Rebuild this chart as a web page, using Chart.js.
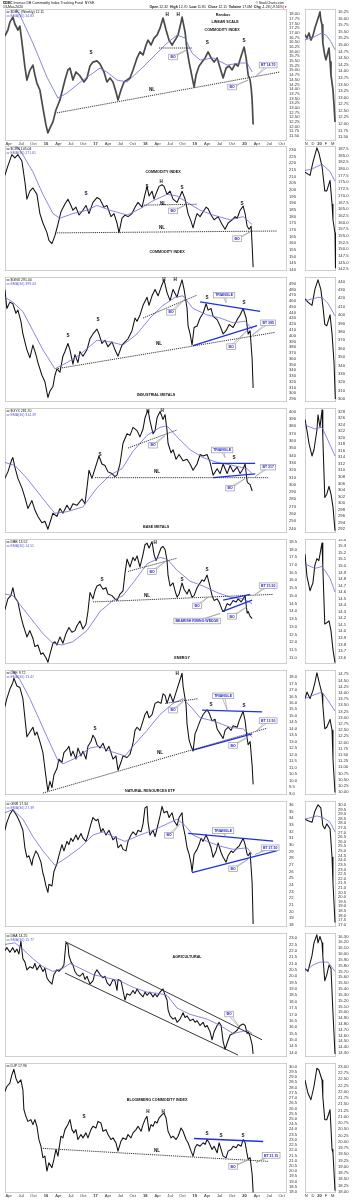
<!DOCTYPE html>
<html>
<head>
<meta charset="utf-8">
<script src="https://cdn.jsdelivr.net/npm/chart.js@4.4.1/dist/chart.umd.min.js"></script>
<style>
  html, body { margin: 0; padding: 0; background: #fff; }
  #page { position: relative; width: 354px; height: 1200px; overflow: hidden; background: #fff; }
  #page canvas { position: absolute; }
</style>
</head>
<body>
<div id="page"></div>
<script>
// x values are months counted from Jan 2015 (Jan 2016 = 12, Jan 2020 = 60)
const quarterMonths = [3, 6, 9, 12, 15, 18, 21, 24, 27, 30, 33, 36, 39, 42, 45, 48, 51, 54, 57, 60, 63, 66, 69];
const quarterLabels = ['Apr', 'Jul', 'Oct', '16', 'Apr', 'Jul', 'Oct', '17', 'Apr', 'Jul', 'Oct', '18',
                       'Apr', 'Jul', 'Oct', '19', 'Apr', 'Jul', 'Oct', '20', 'Apr', 'Jul', 'Oct'];
const dailyMonths = [58, 59, 60, 61, 62];
const dailyLabels = ['N', 'D', '20', 'F', 'M'];

// ---- $DBC ----
const dbcWeekly = [[2.07,16.83],[2.8,17.15],[3.28,17.57],[4.0,17.84],[4.49,17.47],[5.22,17.15],[5.7,17.36],[6.19,16.5],[6.91,15.18],[7.4,14.48],[8.12,15.0],[8.85,15.28],[9.33,14.75],[9.82,14.32],[10.54,13.95],[11.27,13.0],[12.0,12.09],[12.48,11.66],[12.96,11.92],[13.69,12.25],[14.42,12.88],[14.9,13.15],[15.39,13.42],[15.87,13.84],[16.6,14.48],[17.32,15.02],[17.81,15.12],[18.53,14.48],[19.26,14.91],[20.23,14.7],[21.2,14.38],[21.92,14.59],[22.65,15.23],[23.37,15.44],[24.34,15.5],[25.07,15.34],[26.04,14.91],[26.76,14.38],[27.49,14.59],[28.22,14.38],[28.94,13.84],[29.43,13.42],[30.15,13.95],[30.88,14.38],[31.61,14.48],[32.33,14.59],[33.06,15.02],[34.03,15.66],[34.75,15.98],[35.48,15.82],[36.21,16.35],[36.69,16.61],[37.42,16.35],[38.14,16.72],[38.87,16.88],[39.6,17.25],[40.32,17.79],[41.05,17.15],[41.77,16.61],[42.5,16.35],[43.23,16.61],[43.95,16.88],[44.68,17.57],[44.92,17.84],[45.65,17.04],[46.13,16.08],[46.62,15.44],[47.1,14.91],[47.58,14.38],[47.83,14.11],[48.31,14.75],[49.04,15.23],[49.76,15.44],[50.49,15.66],[51.22,15.98],[51.94,15.66],[52.67,15.44],[53.4,15.66],[54.12,15.12],[54.85,14.59],[55.57,15.12],[56.3,15.23],[57.03,15.02],[57.75,15.34],[58.48,15.23],[59.21,15.76],[59.93,16.24],[60.42,15.66],[60.9,14.75],[61.38,14.48],[61.63,14.06],[61.87,13.42],[62.11,12.11]];
const dbcEma = [[2.07,19.0],[4.98,18.21],[5.7,17.95],[8.85,16.45],[12.24,14.64],[14.9,13.52],[17.08,13.79],[20.95,14.48],[25.07,15.12],[26.76,14.91],[29.19,14.48],[31.61,14.38],[34.75,15.02],[37.9,15.71],[41.29,16.45],[43.71,16.88],[45.65,16.72],[47.34,15.92],[49.28,15.55],[52.43,15.66],[55.82,15.28],[58.96,15.39],[60.66,15.39],[61.87,14.91]];
const dbcDaily = [[57.8,15.38],[58.1,15.26],[58.4,15.45],[58.7,15.18],[59.0,15.34],[59.3,15.64],[59.6,15.87],[59.9,16.1],[60.07,16.25],[60.2,15.95],[60.38,15.76],[60.5,15.07],[60.8,14.6],[60.98,14.43],[61.28,14.73],[61.44,14.88],[61.6,14.35],[61.74,13.85],[62.04,13.29],[62.2,12.72],[62.35,12.07]];
const dbcDailyEma = [[57.8,15.19],[58.86,15.26],[59.77,15.38],[60.38,15.45],[61.1,15.34],[61.74,15.11],[62.35,14.81]];
const dbcTicks = [11.5,11.75,12,12.25,12.5,12.75,13,13.25,13.5,13.75,14,14.25,14.5,14.75,15,15.25,15.5,15.75,16,16.25,16.5,16.75,17,17.25,17.5,17.75,18];
const dbcDailyTicks = [11.5,11.75,12,12.25,12.5,12.75,13,13.25,13.5,13.75,14,14.25,14.5,14.75,15,15.25,15.5,15.75,16,16.25];

// ---- $CRB ----
const crbWeekly = [[2.07,210.9],[2.8,218],[3.76,226.4],[4.49,224],[5.22,226.4],[6.19,221.6],[6.91,206.1],[7.4,193],[8.12,199],[8.85,201.4],[9.82,196.6],[10.54,182.2],[11.27,175.1],[12.24,167.9],[12.72,162],[13.45,159.6],[14.18,165.6],[14.9,174],[15.63,183.5],[16.6,189.4],[17.32,193],[18.05,188.3],[18.53,184.7],[19.26,187],[19.99,181.1],[20.95,184.7],[21.68,188.3],[22.41,182.2],[23.37,190.6],[24.34,194.2],[25.07,193],[26.04,187],[26.76,188.3],[27.73,179.9],[28.46,182.2],[29.19,175.1],[29.67,167.9],[30.4,178.7],[31.12,181.1],[31.85,179.9],[32.82,182.2],[33.54,187],[34.27,190.6],[35.24,187],[35.96,196.6],[36.45,202.6],[36.93,195.4],[37.66,199],[38.14,193],[38.87,199],[39.35,202.6],[40.08,203.8],[40.56,202.6],[41.29,196.6],[42.02,199],[42.74,193],[43.71,190.6],[44.44,195.4],[44.92,199],[45.65,193],[46.37,182.2],[47.1,176.3],[47.58,171.5],[48.07,177.5],[48.55,182.2],[49.28,179.9],[50.01,183.5],[50.73,187],[51.22,185.8],[51.94,181.1],[52.67,177.5],[53.64,179.9],[54.61,174],[55.33,170.4],[56.06,175.1],[57.03,177.5],[57.75,179.9],[58.24,178.7],[58.96,184.7],[59.69,187.8],[60.17,182.2],[60.66,172.7],[61.14,170.4],[61.63,172.7],[61.87,158.4],[62.11,142]];
const crbEma = [[2.07,240],[5.7,230],[8.85,213.5],[11.27,196.6],[13.69,182.2],[15.39,178.7],[18.53,182.2],[21.92,184.7],[24.34,188.3],[27.49,184.7],[31.61,181.1],[34.75,185.8],[37.9,191.8],[41.29,196.6],[43.71,195.4],[46.13,190.6],[49.28,184.7],[52.43,181.1],[56.54,177.5],[59.69,179.9],[61.87,174]];
const crbDaily = [[57.8,178.8],[58.56,177.6],[59.0,182.5],[59.6,187.9],[59.9,186],[60.38,181],[60.8,171.8],[61.1,171.8],[61.6,175.7],[61.9,166.8],[62.04,161],[62.35,156],[62.42,143]];
const crbDailyEma = [[57.8,179.4],[58.86,180],[60.38,181.8],[61.6,179],[62.35,175.4]];
const crbTicks = [140,145,150,155,160,165,170,175,180,185,190,195,200,205,210,215,220,225,230];
const crbDailyTicks = [142.5,145,147.5,150,152.5,155,157.5,160,162.5,165,167.5,170,172.5,175,177.5,180,182.5,185,187.5];

// ---- $GNX ----
const gnxWeekly = [[2.07,480.1],[2.55,447],[3.28,458.1],[4.0,455.3],[4.73,438.8],[5.22,444.2],[5.94,425],[6.43,402.9],[7.4,375.4],[8.12,361.6],[8.85,383.7],[9.58,367.2],[10.06,353.3],[11.03,331.3],[11.75,320.2],[12.48,292.8],[12.96,303.7],[13.69,312],[14.18,331.3],[14.66,342.4],[15.39,336.8],[16.11,364.4],[16.6,372.6],[17.32,386.4],[17.81,375.4],[18.53,350.6],[19.02,367.2],[19.74,353.3],[20.23,372.6],[20.95,364.4],[21.92,375.4],[22.65,394.6],[23.37,402.9],[24.34,411.2],[24.83,402.9],[25.55,386.4],[26.28,392],[27.01,380.9],[27.97,389.2],[28.7,375.4],[29.43,364.4],[30.4,383.7],[31.12,389.2],[31.85,394.6],[32.82,408.5],[33.54,430.5],[34.03,425],[34.75,435.9],[35.48,452.5],[36.45,466.4],[36.93,452.5],[37.66,469],[38.39,480.1],[39.11,469],[40.08,488.3],[40.56,496.6],[41.29,474.6],[42.02,460.7],[42.74,480.1],[43.71,466.4],[44.2,480.1],[44.92,496.6],[45.41,480.1],[46.13,447],[46.37,416.8],[46.86,402.9],[47.34,383.7],[47.83,414],[48.55,416.8],[49.28,430.5],[50.01,438.8],[50.73,455.3],[51.22,444.2],[51.94,447],[52.43,433.3],[53.4,427.7],[54.12,416.8],[54.85,402.9],[55.57,408.5],[56.3,419.4],[57.27,414],[58.24,427.7],[58.96,435.9],[59.69,447],[60.42,430.5],[60.9,402.9],[61.38,408.5],[61.87,358.9],[62.11,309.3]];
const gnxEma = [[2.07,466.4],[4.0,458.1],[6.43,441.6],[8.85,408.5],[11.27,375.4],[14.18,342.4],[17.08,353.3],[20.23,367.2],[24.34,392],[27.49,389.2],[30.64,383.7],[34.03,402.9],[37.17,430.5],[40.32,452.5],[43.23,466.4],[45.16,469],[47.58,447],[50.97,435.9],[54.12,430.5],[57.27,422.2],[60.17,425],[61.87,411.2]];
const gnxDaily = [[57.8,419.2],[58.25,415.5],[58.86,411.6],[59.3,430.6],[59.77,441.9],[60.2,430.6],[60.5,411.6],[60.8,388.9],[61.1,387.1],[61.6,400.3],[61.9,377.6],[62.2,343.5],[62.4,300]];
const gnxDailyEma = [[57.8,417],[59.77,421],[60.38,421],[61.28,414],[62.35,399]];
const gnxTicks = [290,300,310,320,330,340,350,360,370,380,390,400,410,420,430,440,450,460,470,480,490];
const gnxDailyTicks = [300,310,320,330,340,350,360,370,380,390,400,410,420,430,440];

// ---- $GYX ----
const gyxWeekly = [[2.07,308.7],[2.8,317.5],[3.76,334.8],[4.0,337],[4.49,324],[5.22,308.7],[6.19,295.7],[6.91,282.6],[7.64,267.5],[8.61,278.3],[9.33,265.3],[10.06,256.6],[11.03,248],[11.75,250],[12.48,239.2],[12.96,248],[13.69,261],[14.66,256.6],[15.39,267.5],[16.11,261],[17.08,271.8],[17.81,265.3],[18.53,274],[19.5,271.8],[20.71,280.5],[21.44,274],[21.92,295.7],[22.41,319.7],[23.13,308.7],[23.62,317.5],[24.34,330.5],[24.83,339.2],[25.55,328.3],[26.28,326.2],[27.01,317.5],[27.97,315.2],[28.7,311],[29.19,313.1],[29.91,328.3],[30.64,356.6],[31.61,369.6],[32.33,367.4],[33.06,378.4],[34.03,373.9],[34.75,365.3],[35.48,376.1],[35.96,391.4],[36.69,402.2],[37.17,387],[37.9,369.6],[38.39,373.9],[38.87,391.4],[39.6,400],[40.32,389.2],[40.81,395.7],[41.29,373.9],[41.53,356.6],[42.26,343.5],[42.74,347.8],[43.47,334.8],[44.2,341.3],[45.16,332.7],[46.13,334.8],[46.86,328.3],[47.58,319.7],[48.55,328.3],[49.28,341.3],[50.01,339.2],[50.97,341.3],[51.7,330.5],[52.43,313.1],[53.4,321.8],[54.12,315.2],[54.85,328.3],[55.82,315.2],[56.54,326.2],[57.27,317.5],[58.24,324],[58.96,315.2],[59.69,321.8],[60.17,328.3],[60.66,304.4],[60.9,302.2],[61.38,300.1],[61.87,291.4]];
const gyxEma = [[2.07,330.5],[4.49,326.2],[7.4,308.7],[9.82,291.4],[12.24,274],[14.18,261],[17.08,263.1],[20.95,269.6],[24.34,295.7],[27.49,313.1],[30.4,321.8],[33.06,345.8],[36.45,367.4],[39.6,378.4],[41.29,380.4],[43.71,365.3],[46.86,347.8],[50.01,337],[53.4,330.5],[57.27,326.2],[60.66,321.8],[61.87,315.2]];
const gyxDaily = [[57.8,325.6],[58.1,322.2],[58.4,318.3],[58.86,314.4],[59.16,316.3],[59.6,322.2],[59.77,327],[60.07,323.2],[60.38,328.5],[60.5,320.2],[60.8,301.7],[61.1,302.7],[61.44,305.1],[61.74,302.7],[62.04,298.8],[62.35,291.5]];
const gyxDailyEma = [[57.8,324.5],[58.1,323.6],[59.3,322.7],[60.38,323.2],[61.28,319.2],[62.35,314.4]];
const gyxTicks = [240,250,260,270,280,290,300,310,320,330,340,350,360,370,380,390,400];
const gyxDailyTicks = [292,294,296,298,300,302,304,306,308,310,312,314,316,318,320,322,324,326,328];

// ---- DBB ----
const dbbWeekly = [[2.07,14.09],[2.8,14.8],[3.52,15.01],[4.0,15.52],[4.49,14.91],[5.22,14.6],[5.94,13.67],[6.43,13.16],[7.4,12.34],[8.12,12.75],[8.85,12.24],[9.33,11.72],[10.06,11.82],[10.79,11.21],[11.27,11.31],[12.0,11.0],[12.48,10.7],[12.96,11.21],[13.69,11.93],[14.18,12.03],[14.66,11.82],[15.39,12.34],[16.11,11.93],[16.84,12.55],[17.56,12.95],[18.29,12.64],[19.02,12.75],[19.5,13.06],[20.23,13.37],[20.95,12.85],[21.68,13.16],[22.16,13.98],[22.65,15.21],[23.37,14.8],[23.86,15.32],[24.34,15.63],[25.07,15.73],[25.8,15.42],[26.52,15.52],[27.01,15.11],[27.97,15.01],[28.7,14.8],[29.19,14.7],[29.91,15.11],[30.64,15.32],[31.12,16.45],[31.61,17.37],[32.33,16.86],[33.06,17.48],[33.54,17.27],[34.03,17.58],[34.75,16.86],[35.48,17.68],[35.96,18.3],[36.45,18.4],[36.93,18.09],[37.66,18.5],[38.14,17.68],[38.63,17.27],[39.11,17.58],[39.84,18.09],[40.32,18.19],[40.81,17.99],[41.29,17.27],[41.53,16.34],[42.02,15.63],[42.74,15.83],[43.23,15.32],[43.71,14.91],[44.2,15.11],[44.92,15.83],[45.41,15.42],[46.13,15.11],[46.62,15.42],[47.34,14.91],[47.83,15.01],[48.55,15.52],[49.04,15.73],[49.76,16.03],[50.25,15.94],[50.97,16.34],[51.46,15.83],[52.18,15.01],[52.67,14.7],[53.4,14.8],[53.88,14.6],[54.61,14.09],[55.09,13.98],[55.82,14.49],[56.54,14.39],[57.27,14.7],[58.0,14.6],[58.48,14.8],[59.21,14.6],[59.69,14.8],[60.17,15.01],[60.66,13.88],[60.9,13.98],[61.38,13.67],[61.87,13.52]];
const dbbEma = [[2.07,15.11],[4.0,15.01],[6.43,14.19],[8.85,13.37],[11.27,12.55],[13.69,11.93],[15.87,11.82],[18.53,12.03],[21.92,12.75],[25.07,13.98],[28.22,14.7],[30.64,15.01],[33.06,15.83],[36.45,17.06],[39.6,17.48],[41.29,17.37],[43.71,16.65],[46.86,15.94],[50.01,15.63],[53.4,15.21],[56.54,14.91],[59.69,14.8],[61.87,14.49]];
const dbbDaily = [[57.8,15.18],[58.1,14.84],[58.56,14.62],[59.0,14.74],[59.3,15.01],[59.6,15.11],[59.9,15.08],[60.38,15.35],[60.5,14.99],[60.8,14.11],[61.1,14.13],[61.44,14.16],[61.74,14.01],[62.04,13.72],[62.35,13.52]];
const dbbDailyEma = [[57.8,15.03],[59.3,14.96],[60.38,14.99],[61.6,14.81],[62.35,14.6]];
const dbbTicks = [11,11.5,12,12.5,13,13.5,14,14.5,15,15.5,16,16.5,17,17.5,18,18.5];
const dbbDailyTicks = [13.6,13.7,13.8,13.9,14,14.1,14.2,14.3,14.4,14.5,14.6,14.7,14.8,14.9,15,15.1,15.2,15.3,15.4];

// ---- DBE ----
const dbeWeekly = [[2.07,15.71],[2.55,16.32],[3.28,17.06],[4.0,17.55],[4.25,17.9],[4.98,17.3],[5.7,17.18],[6.43,16.32],[6.91,14.85],[7.4,13.38],[8.12,13.75],[8.85,14.12],[9.33,13.51],[9.82,13.75],[10.54,13.02],[11.27,12.16],[11.75,10.94],[12.24,9.71],[12.48,9.22],[12.96,9.95],[13.45,9.47],[13.93,10.44],[14.66,10.94],[15.14,11.67],[15.87,11.42],[16.35,12.16],[17.08,12.41],[17.56,12.65],[18.05,11.91],[18.53,12.28],[19.26,11.67],[19.74,12.52],[20.47,11.91],[20.95,12.28],[21.68,11.67],[22.16,12.65],[22.89,13.02],[23.37,13.51],[23.86,13.26],[24.34,12.77],[25.07,12.52],[25.8,12.89],[26.52,12.28],[27.25,12.65],[28.22,11.67],[28.94,11.91],[29.43,10.81],[30.15,11.42],[30.64,11.91],[31.61,11.79],[32.33,12.04],[33.06,12.89],[33.54,13.88],[34.03,14.12],[34.75,13.88],[35.48,14.61],[35.96,15.1],[36.45,15.35],[36.93,14.85],[37.66,15.1],[38.39,15.96],[39.11,16.08],[39.84,15.96],[40.32,16.69],[40.81,16.57],[41.29,15.96],[42.02,16.69],[42.74,16.08],[43.71,17.06],[44.2,17.55],[44.92,18.28],[45.16,17.3],[45.89,15.83],[46.13,14.36],[46.62,13.14],[47.1,12.65],[47.58,12.28],[48.07,13.63],[48.55,13.99],[49.28,14.61],[50.01,15.1],[50.97,15.46],[51.46,15.22],[52.18,14.61],[52.91,14.73],[53.4,13.99],[54.12,13.63],[54.85,13.26],[55.33,13.88],[56.06,14.12],[56.78,13.88],[57.27,14.24],[58.24,14.12],[58.72,14.61],[59.69,15.35],[60.17,14.61],[60.66,13.26],[60.9,12.77],[61.38,13.02],[61.87,11.18],[62.11,9.72]];
const dbeEma = [[2.07,19.2],[5.7,17.79],[8.12,16.32],[10.54,14.61],[12.96,12.89],[14.9,11.55],[16.11,11.3],[19.5,11.79],[22.65,12.52],[25.07,12.65],[27.49,12.28],[31.12,11.91],[33.06,12.65],[36.45,13.88],[39.6,15.1],[42.74,15.96],[45.16,16.32],[47.34,15.59],[49.28,14.85],[52.43,14.61],[56.54,14.12],[59.69,13.99],[61.87,13.38]];
const dbeDaily = [[57.8,13.77],[58.1,14.03],[58.56,13.77],[59.0,14.09],[59.3,14.41],[59.6,14.81],[59.9,14.47],[60.38,13.96],[60.5,13.51],[60.8,12.55],[61.1,12.61],[61.6,12.93],[61.9,12.49],[62.04,11.33],[62.35,9.98]];
const dbeDailyEma = [[57.8,13.77],[59.0,13.9],[60.38,14.03],[61.28,13.7],[62.35,13.26]];
const dbeTicks = [9,9.5,10,10.5,11,11.5,12,12.5,13,13.5,14,14.5,15,15.5,16,16.5,17,17.5,18];
const dbeDailyTicks = [10,10.25,10.5,10.75,11,11.25,11.5,11.75,12,12.25,12.5,12.75,13,13.25,13.5,13.75,14,14.25,14.5,14.75];

// ---- GNR ----
const gnrWeekly = [[2.07,32.18],[2.55,33.37],[3.28,34.57],[4.0,35.28],[4.49,34.8],[4.98,34.33],[5.7,33.37],[6.43,32.18],[6.91,29.55],[7.4,28.12],[7.88,28.36],[8.61,26.93],[8.85,27.88],[9.58,29.08],[10.06,28.59],[10.79,27.4],[11.27,25.73],[11.51,25.26],[12.0,23.82],[12.48,22.86],[12.72,24.07],[13.45,23.82],[13.93,25.97],[14.66,27.16],[15.14,28.36],[15.87,30.03],[16.35,29.08],[17.08,30.51],[17.56,30.03],[18.05,30.99],[18.53,30.51],[19.26,31.46],[19.74,30.75],[20.47,31.7],[20.95,30.99],[21.68,30.51],[22.16,31.46],[22.89,33.13],[23.37,34.09],[24.1,33.61],[24.59,33.85],[25.31,31.94],[25.8,32.42],[26.52,31.46],[27.25,32.18],[28.22,30.75],[28.94,31.23],[29.43,29.55],[30.15,30.03],[30.64,29.31],[31.36,29.08],[31.85,30.51],[32.57,31.46],[33.06,31.94],[33.79,31.46],[34.27,32.18],[35.0,31.94],[35.48,33.13],[35.96,35.53],[36.45,35.76],[36.69,33.37],[37.17,31.46],[37.9,32.18],[38.39,31.23],[38.87,32.42],[39.6,34.33],[40.08,35.76],[40.56,34.8],[41.29,35.04],[41.77,34.09],[42.5,34.8],[42.98,33.61],[43.71,32.89],[44.2,34.09],[44.92,34.8],[45.16,32.89],[45.65,31.46],[46.13,29.55],[46.62,28.59],[47.1,27.16],[47.34,25.97],[47.83,28.59],[48.55,29.31],[49.04,30.03],[49.52,30.99],[50.01,30.51],[50.73,31.46],[51.22,30.75],[51.94,29.55],[52.43,28.12],[53.15,29.08],[53.64,30.27],[54.36,28.84],[54.85,28.12],[55.57,27.4],[56.06,28.36],[56.78,29.08],[57.27,28.84],[58.24,29.55],[58.72,29.8],[59.69,30.99],[60.17,30.03],[60.66,28.59],[60.9,28.36],[61.38,28.84],[61.87,24.3],[62.11,18.1]];
const gnrEma = [[2.07,34.8],[4.0,35.28],[6.43,33.85],[8.85,31.23],[11.27,29.08],[14.18,26.93],[17.08,28.12],[20.23,29.55],[23.37,31.46],[25.8,31.94],[28.22,31.23],[31.12,30.51],[34.75,31.46],[37.9,32.18],[41.29,33.13],[43.71,33.85],[45.65,32.89],[47.58,31.46],[50.97,30.51],[54.12,29.8],[57.27,29.31],[60.66,29.55],[61.87,28.59]];
const gnrDaily = [[57.8,28.45],[58.25,28.27],[58.86,28.1],[59.3,29.31],[59.77,30.0],[60.2,29.66],[60.5,27.76],[60.8,27.41],[61.1,27.93],[61.6,27.41],[61.9,24.31],[62.04,21.55],[62.35,17.25]];
const gnrDailyEma = [[57.8,28.45],[59.6,28.79],[60.5,28.62],[61.6,28.1],[62.35,27.07]];
const gnrTicks = [18,19,20,21,22,23,24,25,26,27,28,29,30,31,32,33,34,35,36];
const gnrDailyTicks = [17,17.5,18,18.5,19,19.5,20,20.5,21,21.5,22,22.5,23,23.5,24,24.5,25,25.5,26,26.5,27,27.5,28,28.5,29,29.5,30];

// ---- DBA ----
const dbaWeekly = [[2.07,22.0],[2.55,22.25],[3.28,21.88],[4.0,22.25],[4.49,21.88],[4.98,22.13],[5.46,21.75],[5.94,22.75],[6.43,21.38],[6.91,21.13],[7.4,20.5],[8.12,20.75],[8.85,20.63],[9.33,21.0],[9.82,20.5],[10.54,20.88],[11.27,20.38],[11.75,20.63],[12.24,19.88],[12.72,19.63],[13.45,19.38],[13.93,20.13],[14.66,20.5],[15.14,20.38],[15.87,20.63],[16.35,20.88],[16.84,22.63],[17.32,22.5],[17.56,21.63],[18.05,21.13],[18.53,20.88],[19.02,20.38],[19.5,20.13],[20.23,20.0],[20.95,20.25],[21.44,19.75],[21.92,20.0],[22.65,19.38],[23.37,19.63],[23.86,20.25],[24.34,20.5],[25.07,20.13],[25.8,19.88],[26.28,20.0],[26.76,19.5],[27.49,19.25],[28.22,19.75],[28.7,19.63],[29.19,18.88],[29.43,19.75],[30.15,19.63],[30.64,18.88],[31.12,18.13],[31.61,18.63],[32.33,18.5],[33.06,18.88],[33.54,18.63],[34.03,19.0],[34.75,18.63],[35.48,18.38],[35.96,18.75],[36.45,18.5],[37.17,18.75],[37.9,18.38],[38.39,18.63],[38.87,18.38],[39.6,18.75],[40.32,19.0],[40.81,18.5],[41.29,18.13],[41.53,17.38],[42.02,16.88],[42.74,16.63],[43.23,16.75],[43.71,16.38],[44.44,16.63],[45.16,17.13],[45.65,16.75],[46.13,16.88],[46.86,16.5],[47.58,16.63],[48.07,16.38],[48.55,16.5],[49.28,16.13],[50.01,16.38],[50.49,16.0],[50.97,16.13],[51.7,15.63],[52.18,15.0],[52.67,15.63],[53.4,16.13],[53.88,16.38],[54.36,16.13],[54.85,14.88],[55.33,14.25],[55.82,14.75],[56.54,15.38],[57.27,15.5],[57.75,15.63],[58.24,15.75],[58.96,16.13],[59.69,16.25],[60.17,16.13],[60.66,15.5],[60.9,15.63],[61.38,15.25],[61.87,14.63],[62.11,13.9]];
const dbaEma = [[2.07,22.5],[4.49,22.63],[6.43,22.13],[8.85,21.38],[11.27,20.75],[13.69,20.38],[16.11,20.63],[17.81,21.0],[20.23,20.63],[23.37,20.13],[26.76,19.88],[29.91,19.63],[33.06,19.13],[36.45,18.75],[39.6,18.63],[41.29,18.5],[43.71,17.5],[46.86,17.0],[50.97,16.63],[54.12,16.13],[57.27,15.5],[60.66,15.75],[61.87,15.5]];
const dbaDaily = [[57.8,15.75],[58.25,15.7],[58.86,15.97],[59.16,16.19],[59.6,16.33],[59.77,16.19],[60.07,16.3],[60.38,16.19],[60.5,15.97],[60.8,15.54],[61.1,15.64],[61.44,15.81],[61.74,15.75],[62.04,14.99],[62.35,14.28]];
const dbaDailyEma = [[57.8,15.7],[59.0,15.81],[60.07,15.86],[61.28,15.86],[62.35,15.7]];
const dbaTicks = [14,14.5,15,15.5,16,16.5,17,17.5,18,18.5,19,19.5,20,20.5,21,21.5,22,22.5,23];
const dbaDailyTicks = [14.3,14.4,14.5,14.6,14.7,14.8,14.9,15,15.1,15.2,15.3,15.4,15.5,15.6,15.7,15.8,15.9,16,16.1,16.2,16.3];

// ---- DJP ----
const djpWeekly = [[2.07,27.62],[2.55,28.1],[3.28,28.42],[3.76,29.21],[4.25,29.75],[4.73,28.9],[5.22,28.42],[5.94,28.73],[6.43,27.78],[6.67,25.88],[7.15,25.24],[7.64,24.76],[8.36,24.93],[8.85,24.45],[9.33,24.93],[9.82,24.29],[10.3,23.02],[10.79,22.38],[11.27,21.28],[11.75,21.43],[12.24,20.0],[12.72,20.8],[13.45,20.33],[13.93,21.12],[14.42,22.07],[14.9,21.43],[15.63,23.34],[16.11,23.18],[16.6,23.97],[17.32,24.45],[17.81,24.93],[18.29,23.97],[18.77,23.66],[19.26,23.97],[19.74,23.02],[20.47,23.5],[20.95,23.18],[21.68,23.66],[22.16,23.18],[22.89,23.97],[23.37,24.29],[24.1,24.13],[24.59,24.76],[25.31,24.6],[25.8,23.81],[26.52,23.97],[27.01,23.5],[27.73,23.02],[28.22,23.18],[28.94,22.71],[29.43,21.91],[30.15,22.86],[30.64,23.18],[31.36,23.02],[31.85,23.5],[32.57,23.18],[33.06,23.66],[33.79,23.97],[34.27,24.29],[35.0,23.81],[35.48,24.45],[35.96,24.93],[36.45,25.24],[36.93,23.81],[37.42,24.45],[37.9,24.29],[38.39,24.76],[38.87,24.6],[39.35,25.08],[40.08,25.4],[40.56,25.56],[41.05,25.08],[41.53,23.81],[42.26,23.18],[42.74,23.34],[43.47,23.02],[43.95,23.34],[44.68,24.13],[45.16,23.81],[45.89,23.02],[46.37,22.71],[47.1,21.91],[47.58,21.43],[48.07,22.23],[48.55,22.55],[49.28,22.38],[50.01,22.71],[50.49,22.55],[50.97,23.02],[51.46,22.71],[52.18,22.07],[52.67,22.38],[53.4,21.75],[53.88,22.71],[54.36,22.07],[54.85,21.43],[55.57,21.28],[56.06,21.91],[56.78,22.07],[57.27,22.38],[58.0,22.23],[58.48,22.55],[59.21,22.38],[59.69,23.02],[60.17,22.71],[60.66,21.59],[60.9,21.12],[61.38,21.28],[61.87,19.69],[62.11,17.96]];
const djpDaily = [[57.8,22.47],[58.25,21.94],[58.7,21.68],[59.16,22.21],[59.6,22.94],[59.9,22.87],[60.38,22.47],[60.5,21.81],[60.8,20.88],[61.1,20.88],[61.6,21.28],[61.9,19.69],[62.04,19.56],[62.35,18.04]];
const djpTicks = [18,18.5,19,19.5,20,20.5,21,21.5,22,22.5,23,23.5,24,24.5,25,25.5,26,26.5,27,27.5,28,28.5,29,29.5,30];
const djpDailyTicks = [18,18.25,18.5,18.75,19,19.25,19.5,19.75,20,20.25,20.5,20.75,21,21.25,21.5,21.75,22,22.25,22.5,22.75,23];

// ---- chart annotations, in data units (month, price) ----
const dbcNotes = {
  legend: [['$DBC (Weekly) 12.11', '#111'], ['EMA(30) 14.83', '#5b5bd0']],
  texts: [[41.29,17.95,'H'],[43.95,17.95,'H'],[54.85,17.95,'Rambus','t'],[55.33,17.57,'LINEAR SCALE','t'],[54.61,17.15,'COMMODITY INDEX','t'],
          [22.89,15.92,'S'],[51.0,16.45,'S'],[59.93,16.56,'S'],[37.66,13.95,'NL']],
  lines: [[39.35,16.19,47.34,16.19,'dot'],[14.66,12.73,68.6,14.91,'dot']],
  boxes: [[42.74,15.71,'BO',46.86,16.19],[57.03,14.11,'BO',60.9,14.48],[65.74,15.28,'BT 14.70',62.6,14.64]]
};
const crbNotes = {
  legend: [['$CRB 145.04', '#111'], ['EMA(30) 171.61', '#5b5bd0']],
  texts: [[40.32,213.5,'COMMODITY INDEX','t'],[21.68,197.1,'S'],[36.45,202.1,'S'],[39.84,206.4,'H'],[44.92,201.4,'S'],[59.45,189.9,'S'],
          [40.32,189.9,'NL'],[40.08,171.3,'NL'],[41.29,153.4,'COMMODITY INDEX','t']],
  lines: [[35.24,188.5,48.55,189.2,'dot'],[14.66,167.7,67.92,169.1,'dot']],
  boxes: [[42.74,184.2,'BO',45.65,188.5],[58.24,163.4,'BO',61.38,168.4]]
};
const gnxNotes = {
  legend: [['$GNX 291.40', '#111'], ['EMA(30) 399.44', '#5b5bd0']],
  texts: [[40.56,497,'H'],[43.23,497,'H'],[17.32,399.1,'S'],[24.59,427.2,'S'],[50.97,465.2,'S'],[59.93,456.9,'S'],[39.35,385.9,'NL'],
          [38.63,296.6,'INDUSTRIAL METALS','t']],
  lines: [[35.48,430.5,48.55,470.2,'dot'],[49.28,458.6,63.81,442.1,'blue'],[47.58,382.6,63.08,417.3,'blue'],[14.9,342.9,67.44,405.7,'dot']],
  boxes: [[42.26,440.4,'BO',45.65,463.6],[55.09,470.2,'TRIANGLE',55.57,456.9],[65.74,422.2,'BT 395',61.87,400.7],[56.78,380.9,'BO',60.66,409]]
};
const gyxNotes = {
  legend: [['$GYX 281.70', '#111'], ['EMA(30) 314.39', '#5b5bd0']],
  texts: [[36.69,399.5,'H'],[40.08,400.5,'H'],[25.07,340.9,'S'],[57.51,337,'S'],[38.87,317.5,'NL'],[38.63,241.8,'BASE METALS','t']],
  lines: [[31.85,350.1,43.71,374.8,'dot'],[52.18,329.2,62.6,329.2,'blue'],[52.43,309.6,62.6,314.8,'blue'],[23.86,309.6,65.74,309.6,'dot']],
  boxes: [[37.9,354,'BO',40.81,367],[54.61,347.4,'TRIANGLE',55.33,337],[65.74,324,'BT 317',62.6,310.9],[56.54,295.3,'BO',60.17,308.4]]
};
const dbbNotes = {
  legend: [['DBB 13.52', '#111'], ['EMA(30) 14.51', '#5b5bd0']],
  texts: [[38.39,18.45,'H'],[25.55,16.02,'S'],[44.92,16.02,'S'],[50.97,16.69,'S'],[36.45,15.03,'NL'],[44.92,10.96,'ENERGY','t']],
  lines: [[31.85,16.57,43.71,17.43,'dot'],[23.37,14.6,66.95,15.09,'dot'],[54.85,14.72,61.38,15.09,'blue'],[54.61,13.98,61.87,14.72,'blue']],
  boxes: [[37.66,16.57,'BO',40.81,17.19],[48.55,14.35,'BO',51.22,14.91],[65.74,15.65,'BT 15.50',62.6,15.09],[57.03,13.67,'BO',60.66,14.29],
          [48.55,13.37,'BEARISH RISING WEDGE',54.12,13.86]]
};
const dbeNotes = {
  legend: [['DBE 9.72', '#111'], ['EMA(30) 13.47', '#5b5bd0']],
  texts: [[43.71,18.25,'H'],[51.94,15.88,'S'],[59.93,15.81,'S'],[23.86,13.97,'S'],[39.6,12.13,'NL'],[37.17,9.19,'NATURAL RESOURCES ETF','t']],
  lines: [[40.81,15.96,48.8,16.32,'dot'],[49.76,15.44,64.29,15.3,'blue'],[47.58,12.36,61.87,13.6,'blue'],[11.27,9.05,65.5,14.05,'dot']],
  boxes: [[42.74,15.44,'BO',45.16,16.1],[54.85,16.54,'TRIANGLE',55.82,15.44],[65.74,14.63,'BT 13.50',62.6,13.75],[57.27,12.72,'BO',60.9,13.38]]
};
const gnrNotes = {
  legend: [['GNR 17.34', '#111'], ['EMA(30) 27.39', '#5b5bd0']],
  texts: [],
  lines: [[46.37,31.7,66.95,30.56,'blue'],[47.34,25.83,67.92,29.12,'blue']],
  boxes: [[41.77,31.42,'BO',44.44,33.13],[54.85,32.13,'TRIANGLE',55.33,31.27],[66.22,29.55,'BT 27.50',62.6,28.55],[57.27,26.4,'BO',60.9,27.83]]
};
const dbaNotes = {
  legend: [['DBA 14.25', '#111'], ['EMA(30) 15.77', '#5b5bd0']],
  texts: [[46.13,21.53,'AGRICULTURAL','t']],
  lines: [[16.6,22.73,64.29,15.0,'solid'],[16.6,20.25,58.48,13.8,'solid']],
  boxes: [[56.3,17.03,'BO',58.96,15.9]]
};
const djpNotes = {
  legend: [['DJP 17.96', '#111']],
  texts: [[38.87,26.83,'BLOOMBERG COMMODITY INDEX','t'],[21.2,25.21,'S'],[36.69,25.69,'H'],[40.32,25.69,'H'],[50.97,23.59,'S'],[54.36,23.41,'S'],[59.69,23.41,'S'],[38.87,21.97,'NL']],
  lines: [[47.83,23.12,64.53,22.83,'blue'],[11.27,22.17,65.74,20.93,'dot']],
  boxes: [[66.46,21.5,'BT 21.15',62.84,20.83],[57.27,20.45,'BO',60.66,21.02]]
};

const FONT = '"Liberation Sans", Arial, Helvetica, sans-serif';
const BLUE = '#1f2fe6';
const EMA_BLUE = '#6b6bd6';
const page = document.getElementById('page');

function pts(arr) { return arr.map(p => ({ x: p[0], y: p[1] })); }

// annotations, legend and frame
function notesPlugin(notes) {
  return {
    id: 'notes',
    beforeDatasetsDraw(chart) {
      const { ctx, chartArea: a } = chart;
      ctx.save();
      ctx.strokeStyle = '#c4c4c4';
      ctx.lineWidth = 0.8;
      ctx.strokeRect(a.left + 0.4, a.top + 0.4, a.right - a.left - 0.8, a.bottom - a.top - 0.8);
      ctx.restore();
    },
    afterDatasetsDraw(chart) {
      if (!notes) return;
      const { ctx, chartArea: a } = chart;
      const sx = chart.scales.x, sy = chart.scales.y;
      const X = v => sx.getPixelForValue(v), Y = v => sy.getPixelForValue(v);
      ctx.save();
      ctx.beginPath();
      ctx.rect(a.left, a.top, a.right - a.left, a.bottom - a.top);
      ctx.clip();
      (notes.lines || []).forEach(l => {
        ctx.beginPath();
        if (l[4] === 'dot') { ctx.setLineDash([1.2, 0.9]); ctx.strokeStyle = '#222'; ctx.lineWidth = 0.9; }
        else if (l[4] === 'blue') { ctx.setLineDash([]); ctx.strokeStyle = BLUE; ctx.lineWidth = 1.3; }
        else { ctx.setLineDash([]); ctx.strokeStyle = '#222'; ctx.lineWidth = 0.9; }
        ctx.moveTo(X(l[0]), Y(l[1]));
        ctx.lineTo(X(l[2]), Y(l[3]));
        ctx.stroke();
      });
      ctx.setLineDash([]);
      ctx.textAlign = 'center';
      ctx.textBaseline = 'middle';
      (notes.texts || []).forEach(t => {
        ctx.fillStyle = '#111';
        ctx.font = (t[3] === 't' ? 'bold 3.7px ' : 'bold 4.6px ') + FONT;
        ctx.fillText(t[2], X(t[0]), Y(t[1]));
      });
      (notes.boxes || []).forEach(b => {
        const px = X(b[0]), py = Y(b[1]), tx = X(b[3]), ty = Y(b[4]);
        ctx.font = 'bold 3.5px ' + FONT;
        const w = ctx.measureText(b[2]).width + 3.4, h = 5.6;
        ctx.strokeStyle = '#8c8c8c';
        ctx.lineWidth = 0.55;
        ctx.beginPath();
        ctx.moveTo(px - 1.6, py); ctx.lineTo(tx, ty);
        ctx.moveTo(px + 1.6, py); ctx.lineTo(tx, ty);
        ctx.stroke();
        ctx.fillStyle = '#fff';
        ctx.fillRect(px - w / 2, py - h / 2, w, h);
        ctx.strokeStyle = '#9a9a9a';
        ctx.lineWidth = 0.7;
        ctx.strokeRect(px - w / 2, py - h / 2, w, h);
        ctx.fillStyle = '#2626d8';
        ctx.fillText(b[2], px, py + 0.2);
      });
      ctx.textAlign = 'left';
      (notes.legend || []).forEach((g, i) => {
        const ly = a.top + 3 + i * 4;
        ctx.strokeStyle = g[1];
        ctx.lineWidth = 0.8;
        ctx.beginPath(); ctx.moveTo(a.left + 1.5, ly); ctx.lineTo(a.left + 4.5, ly); ctx.stroke();
        ctx.fillStyle = g[1];
        ctx.font = '3.5px ' + FONT;
        ctx.fillText(g[0], a.left + 5.5, ly + 0.2);
      });
      ctx.restore();
    }
  };
}

function runs(ctx, x, y, parts, size) {
  parts.forEach(p => {
    ctx.font = (p[1] ? 'bold ' : '') + size + 'px ' + FONT;
    ctx.fillText(p[0], x, y);
    x += ctx.measureText(p[0]).width;
  });
  return x;
}

const headerPlugin = {
  id: 'header',
  afterDraw(chart) {
    const ctx = chart.ctx;
    ctx.save();
    ctx.textBaseline = 'middle';
    ctx.textAlign = 'left';
    ctx.fillStyle = '#111';
    runs(ctx, 3, 3.2, [['$DBC', true], [' Invesco DB Commodity Index Tracking Fund  NYSE', false]], 3.5);
    ctx.font = '3.5px ' + FONT;
    ctx.fillText('13-Mar-2020', 3, 7.3);
    ctx.textAlign = 'right';
    ctx.font = '3.3px ' + FONT;
    ctx.fillText('\u00a9 StockCharts.com', 284, 3.2);
    ctx.textAlign = 'left';
    const quote = [['Open', true], [' 12.32  ', false], ['High', true], [' 12.70  ', false], ['Low', true], [' 11.81  ', false],
                   ['Close', true], [' 12.11  ', false], ['Volume', true], [' 17.0M  ', false], ['Chg', true], [' -1.28 (-9.56%)', false]];
    let w = 0;
    quote.forEach(p => { ctx.font = (p[1] ? 'bold ' : '') + '3.5px ' + FONT; w += ctx.measureText(p[0]).width; });
    runs(ctx, 284 - w, 7.3, quote, 3.5);
    ctx.fillStyle = '#d01010';
    ctx.beginPath(); ctx.moveTo(284.6, 6.3); ctx.lineTo(286.6, 6.3); ctx.lineTo(285.6, 8.1); ctx.closePath(); ctx.fill();
    ctx.restore();
  }
};

function xScale(min, max, ticks, labels, show) {
  return {
    type: 'linear', min: min, max: max, display: show,
    afterBuildTicks: s => { s.ticks = ticks.map(v => ({ value: v })); },
    afterFit: s => { s.height = 6; s.paddingLeft = 0; s.paddingRight = 0; },
    grid: { display: false, drawTicks: false },
    border: { display: false },
    ticks: {
      autoSkip: false, maxRotation: 0, minRotation: 0, padding: 0.5, color: '#333',
      font: c => {
        const v = c && c.tick ? c.tick.value : null;
        const lab = labels[ticks.indexOf(v)] || '';
        return { family: FONT, size: 4.1, weight: /^\d+$/.test(lab) ? 'bold' : 'normal' };
      },
      callback: v => labels[ticks.indexOf(v)] || ''
    }
  };
}

function yScale(min, max, ticks, dec) {
  return {
    type: 'linear', position: 'right', min: min, max: max,
    afterBuildTicks: s => { s.ticks = ticks.map(v => ({ value: v })); },
    afterFit: s => { s.width = 18; s.paddingTop = 0; s.paddingBottom = 0; },
    grid: { display: false, drawTicks: false },
    border: { display: false },
    ticks: { autoSkip: false, padding: 2, color: '#333', font: { family: FONT, size: 4.2 }, callback: v => Number(v).toFixed(dec) }
  };
}

function series(data, color, width) {
  return { data: pts(data), borderColor: color, borderWidth: width, pointRadius: 0, fill: false, tension: 0,
           borderJoinStyle: 'round', parsing: true };
}

function addChart(left, top, w, h, pad, scales, datasets, extra) {
  const c = document.createElement('canvas');
  c.width = w; c.height = h;
  c.style.left = left + 'px'; c.style.top = top + 'px';
  c.style.width = w + 'px'; c.style.height = h + 'px';
  page.appendChild(c);
  return new Chart(c, {
    type: 'line',
    data: { datasets: datasets },
    options: {
      responsive: false, animation: false, devicePixelRatio: 1,
      layout: { padding: pad },
      plugins: { legend: { display: false }, tooltip: { enabled: false } },
      scales: scales
    },
    plugins: extra
  });
}

const panels = [
  { top: 0, h: 147, padTop: 9, showX: true, y: [11.23, 18.27], ticks: dbcTicks, dec: 2, weekly: dbcWeekly, ema: dbcEma, color: '#4a4a4a', width: 1.7,
    sy: [11.35, 16.36], sTicks: dbcDailyTicks, sDec: 2, daily: dbcDaily, dailyEma: dbcDailyEma, notes: dbcNotes, header: true },
  { top: 146, h: 131, padTop: 0, showX: false, y: [139.1, 232.9], ticks: crbTicks, dec: 0, weekly: crbWeekly, ema: crbEma,
    sy: [141.8, 188.6], sTicks: crbDailyTicks, sDec: 1, daily: crbDaily, dailyEma: crbDailyEma, notes: crbNotes },
  { top: 277, h: 131, padTop: 0, showX: false, y: [285, 501.6], ticks: gnxTicks, dec: 0, weekly: gnxWeekly, ema: gnxEma,
    sy: [296.6, 445.3], sTicks: gnxDailyTicks, sDec: 0, daily: gnxDaily, dailyEma: gnxDailyEma, notes: gnxNotes },
  { top: 408, h: 131, padTop: 0, showX: false, y: [234, 404.8], ticks: gyxTicks, dec: 0, weekly: gyxWeekly, ema: gyxEma,
    sy: [290.8, 329.1], sTicks: gyxDailyTicks, sDec: 0, daily: gyxDaily, dailyEma: gyxDailyEma, notes: gyxNotes },
  { top: 539, h: 131, padTop: 0, showX: false, y: [10.59, 18.67], ticks: dbbTicks, dec: 1, weekly: dbbWeekly, ema: dbbEma,
    sy: [13.5, 15.41], sTicks: dbbDailyTicks, sDec: 1, daily: dbbDaily, dailyEma: dbbDailyEma, notes: dbbNotes },
  { top: 670, h: 131, padTop: 0, showX: false, y: [8.9, 18.53], ticks: dbeTicks, dec: 1, weekly: dbeWeekly, ema: dbeEma,
    sy: [9.88, 14.92], sTicks: dbeDailyTicks, sDec: 2, daily: dbeDaily, dailyEma: dbeDailyEma, notes: dbeNotes },
  { top: 801, h: 132, padTop: 0, showX: false, y: [17.66, 36.57], ticks: gnrTicks, dec: 0, weekly: gnrWeekly, ema: gnrEma,
    sy: [16.76, 30.41], sTicks: gnrDailyTicks, sDec: 1, daily: gnrDaily, dailyEma: gnrDailyEma, notes: gnrNotes },
  { top: 933, h: 130, padTop: 0, showX: false, y: [13.65, 23.4], ticks: dbaTicks, dec: 1, weekly: dbaWeekly, ema: dbaEma,
    sy: [14.23, 16.36], sTicks: dbaDailyTicks, sDec: 2, daily: dbaDaily, dailyEma: dbaDailyEma, notes: dbaNotes },
  { top: 1063, h: 136, padTop: 0, showX: true, y: [17.9, 30.35], ticks: djpTicks, dec: 1, weekly: djpWeekly, ema: null,
    sy: [17.95, 23.15], sTicks: djpDailyTicks, sDec: 2, daily: djpDaily, dailyEma: null, notes: djpNotes }
];

panels.forEach(p => {
  const mainSets = [series(p.weekly, p.color || '#111', p.width || 1.05)];
  if (p.ema) mainSets.unshift(series(p.ema, EMA_BLUE, 0.8));
  const mainPlugins = [notesPlugin(p.notes)];
  if (p.header) mainPlugins.push(headerPlugin);
  addChart(0, p.top, 305, p.h, { left: 5, top: p.padTop, right: 0, bottom: 0 },
    { x: xScale(2.1, 70.3, quarterMonths, quarterLabels, p.showX), y: yScale(p.y[0], p.y[1], p.ticks, p.dec) },
    mainSets, mainPlugins);

  const sideSets = [series(p.daily, p.color || '#111', p.width || 1.05)];
  if (p.dailyEma) sideSets.unshift(series(p.dailyEma, EMA_BLUE, 0.8));
  addChart(305, p.top, 49, p.h, { left: 0, top: p.padTop, right: 0, bottom: 0 },
    { x: xScale(57.8, 62.5, dailyMonths, dailyLabels, p.showX), y: yScale(p.sy[0], p.sy[1], p.sTicks, p.sDec) },
    sideSets, [notesPlugin(null)]);
});
</script>
</body>
</html>
